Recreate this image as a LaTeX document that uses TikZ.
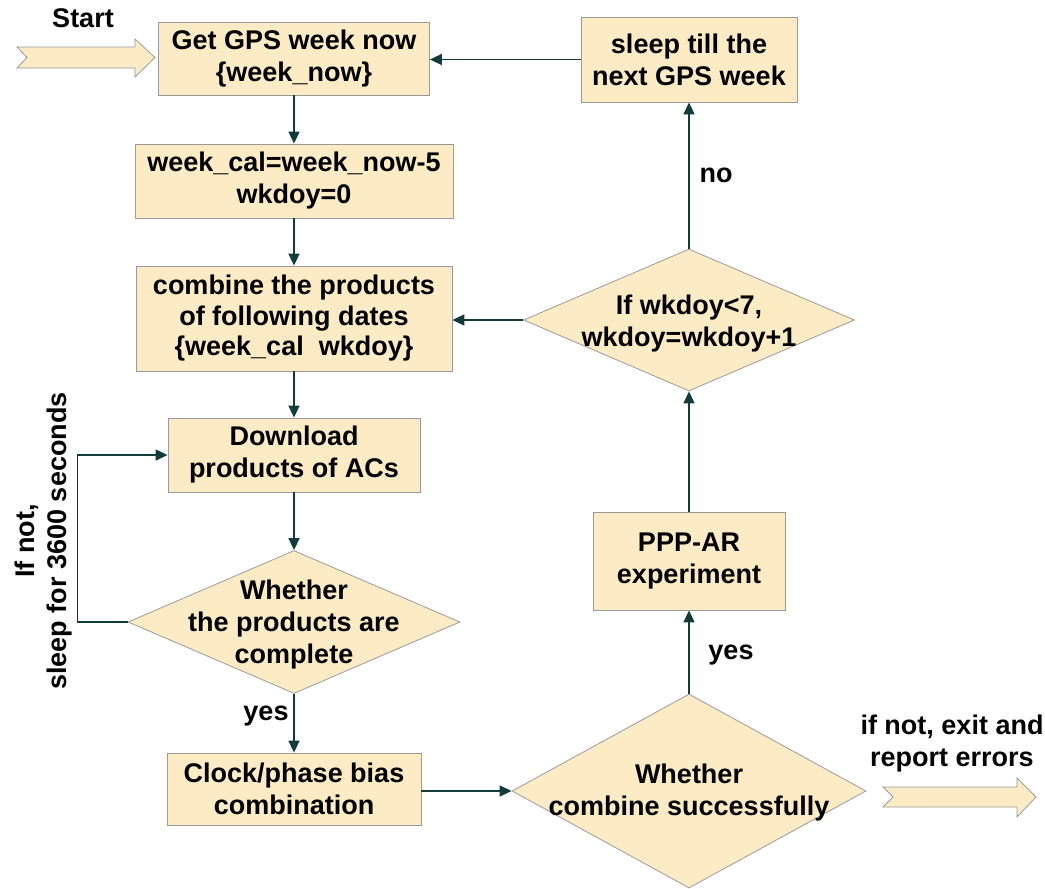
\documentclass[tikz,border=0pt]{standalone}
\usepackage{fontspec}
\setmainfont{Liberation Sans}
\usetikzlibrary{shapes.geometric,arrows.meta}
\definecolor{boxfill}{HTML}{FCEBC4}
\definecolor{boxline}{HTML}{9A9A9A}
\definecolor{connc}{HTML}{123C3C}
\begin{document}
\begin{tikzpicture}[x=1pt,y=-1pt,
  font=\fontsize{27}{32}\selectfont\bfseries,
  box/.style={draw=boxline, fill=boxfill, line width=0.8pt, align=center, inner sep=0pt},
  dia/.style={draw=boxline, fill=boxfill, diamond, line width=0.8pt, inner sep=0pt},
  conn/.style={draw=connc, line width=1.6pt, -{Triangle[length=12pt,width=11pt]}},
  blockarrow/.style={draw=boxline, fill=boxfill, line width=0.8pt, line join=miter},
  lbl/.style={align=center, inner sep=0pt}]
\useasboundingbox (0,0) rectangle (1045,889);

% nodes
\node[box, minimum width=271pt, minimum height=73pt] (b1) at (294,58.5) {Get GPS week now\\\{week\_now\}};
\node[box, minimum width=318pt, minimum height=74pt] (b2) at (294,181) {week\_cal=week\_now-5\\wkdoy=0};
\node[box, minimum width=316pt, minimum height=105pt, font=\fontsize{27}{30.5}\selectfont\bfseries] (b3) at (294,318.5) {combine the products\\of following dates\\\{week\_cal\ \ wkdoy\}};
\node[box, minimum width=252pt, minimum height=74pt] (b4) at (294,455) {Download\\products of ACs};
\node[dia, minimum width=332pt, minimum height=143pt,
  label={[lbl,yshift=-3pt]center:Whether\\the products are\\complete}] (d1) at (294,622) {};
\node[box, minimum width=254pt, minimum height=72pt] (b5) at (294,789) {Clock/phase bias\\combination};
\node[dia, minimum width=354pt, minimum height=194pt,
  label={[lbl,yshift=-2pt]center:Whether\\combine successfully}] (d2) at (689,791) {};
\node[box, minimum width=192pt, minimum height=98pt] (b6) at (689,561) {PPP-AR\\experiment};
\node[dia, minimum width=331pt, minimum height=142pt,
  label={[lbl,yshift=-4pt]center:If wkdoy<7,\\wkdoy=wkdoy+1}] (d3) at (689,320) {};
\node[box, minimum width=216pt, minimum height=85pt] (b7) at (689,59.5) {sleep till the\\next GPS week};

% labels
\node[lbl] (start) at (83,18) {Start};
\node[lbl] (yes1) at (266,716) {yes};
\node[lbl] (yes2) at (731,655) {yes};
\node[lbl] (no) at (716,175) {no};
\node[lbl] (exitlbl) at (952,744) {if not, exit and\\report errors};
\node[lbl, rotate=90] (sleeplbl) at (44,541) {If not,\\sleep for 3600 seconds};

% connectors
\draw[conn] (b1.south) -- (b2.north);
\draw[conn] (b2.south) -- (b3.north);
\draw[conn] (b3.south) -- (b4.north);
\draw[conn] (b4.south) -- (d1.north);
\draw[conn] (d1.west) -- ++(-50,0) |- (b4.west);
\draw[conn] (d1.south) -- (b5.north);
\draw[conn] (d2.west -| b5.east) -- (d2.west);
\draw[conn] (d2.north) -- (b6.south);
\draw[conn] (b6.north) -- (d3.south);
\draw[conn] (d3.west) -- (d3.west -| b3.east);
\draw[conn] (d3.north) -- (b7.south);
\draw[conn] (b7.west) -- (b7.west -| b1.east);

% block arrows
\draw[blockarrow] (17,47) -- (135,47) -- (135,39) -- (155,57.5) -- (135,77) -- (135,68) -- (17,68) -- (27,57.5) -- cycle;
\draw[blockarrow] (883,787) -- (1017,787) -- (1017,778) -- (1036,797) -- (1017,817) -- (1017,807) -- (883,807) -- (893,797) -- cycle;
\end{tikzpicture}
\end{document}
